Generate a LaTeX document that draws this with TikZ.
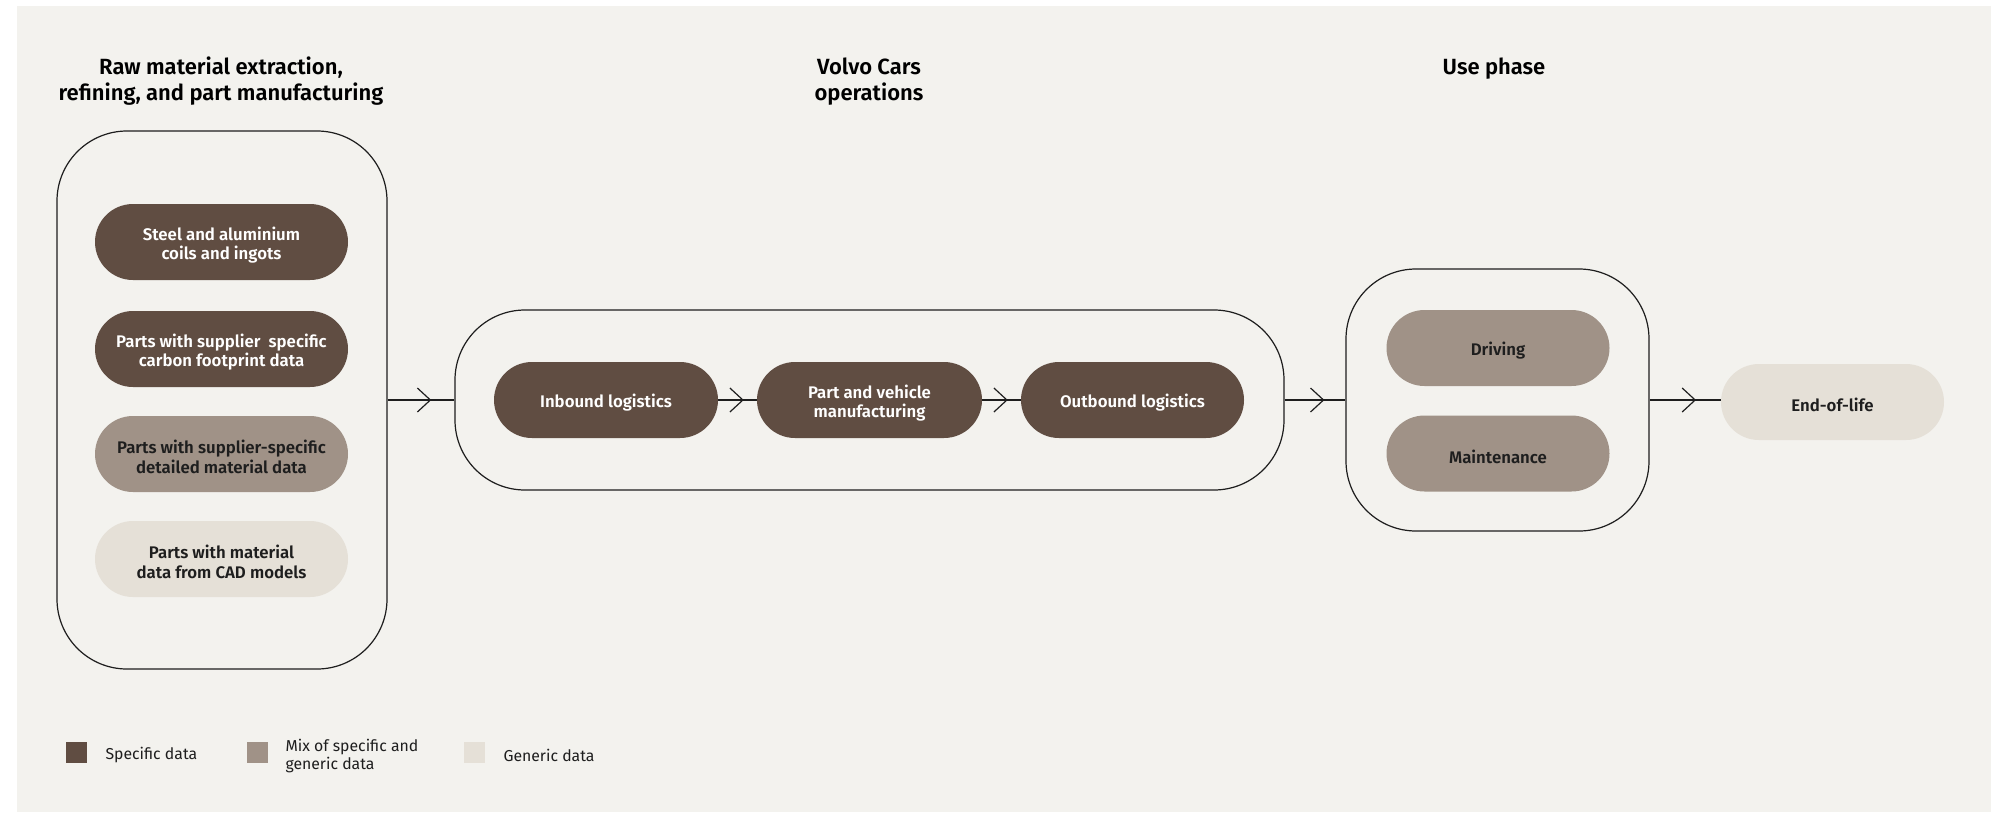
\documentclass[tikz,border=0pt]{standalone}
\usepackage{fontspec}
\setmainfont{Fira Sans}[BoldFont={Fira Sans SemiBold}]
\usetikzlibrary{decorations.markings}
\definecolor{bgc}{RGB}{243,242,238}
\definecolor{darkc}{RGB}{96,77,66}
\definecolor{midc}{RGB}{160,146,135}
\definecolor{lightc}{RGB}{229,224,215}
\definecolor{inkc}{RGB}{30,30,30}
\tikzset{
  pill/.style={rounded corners=38pt, minimum width=226pt, minimum height=76pt, inner sep=0pt},
  pilltext/.style={align=center, yshift=-3pt, inner sep=0pt, font=\bfseries\fontsize{16.8}{19.5}\selectfont},
  pilldark/.style={pill, fill=darkc, label={[pilltext, text=white]center:#1}},
  pillmid/.style={pill, fill=midc, label={[pilltext, text=inkc]center:#1}},
  pilllight/.style={pill, fill=lightc, label={[pilltext, text=inkc]center:#1}},
  container/.style={draw=inkc, line width=1.2pt, rounded corners=70pt, inner sep=0pt},
  title/.style={align=center, text=black, font=\bfseries\fontsize{22}{26}\selectfont},
  legtext/.style={anchor=west, align=left, text=inkc, font=\fontsize{15.8}{18}\selectfont},
  flow/.style={draw=inkc, line width=1.2pt, postaction={decorate},
    decoration={markings, mark=at position 0.64 with {\draw[draw=inkc, line width=1.2pt, line join=miter] (-13,12) -- (0,0) -- (-13,-12);}}}
}
\begin{document}
\begin{tikzpicture}[x=1pt,y=-1pt]
\useasboundingbox (0,0) rectangle (2003,812);
\fill[white] (0,0) rectangle (2003,812);
\fill[bgc] (17,6) rectangle (1991,812);

% titles
\node[title] (t1) at (221,81.5) {Raw material extraction,\\refining, and part manufacturing};
\node[title] (t2) at (869,81.5) {Volvo Cars\\operations};
\node[title] (t3) at (1494,68.5) {Use phase};

% containers
\node[container, minimum width=330pt, minimum height=538pt] (L) at (222,400) {};
\node[container, minimum width=829pt, minimum height=180pt] (M) at (869.5,400) {};
\node[container, minimum width=303pt, minimum height=262pt] (U) at (1497.5,400) {};

% left column
\node[pilldark={Steel and aluminium\\coils and ingots}, minimum width=253pt] (a1) at (221.5,242) {};
\node[pilldark={Parts with supplier\ \ specific\\carbon footprint data}, minimum width=253pt] (a2) at (221.5,349) {};
\node[pillmid={Parts with supplier-specific\\detailed material data}, minimum width=253pt] (a3) at (221.5,454) {};
\node[pilllight={Parts with material\\data from CAD models}, minimum width=253pt] (a4) at (221.5,559) {};

% middle row
\node[pilldark={Inbound logistics}, minimum width=224pt] (b1) at (606,400) {};
\node[pilldark={Part and vehicle\\manufacturing}, minimum width=225pt] (b2) at (869.5,400) {};
\node[pilldark={Outbound logistics}, minimum width=223pt] (b3) at (1132.5,400) {};

% use phase
\node[pillmid={Driving}, minimum width=223pt] (c1) at (1498,348) {};
\node[pillmid={Maintenance}, minimum width=223pt] (c2) at (1498,453.5) {};

% end of life
\node[pilllight={End-of-life}, minimum width=223pt] (d1) at (1832.5,402) {};

% connectors
\draw[flow] (L.east) -- (M.west);
\draw[flow] (b1.east) -- (b2.west);
\draw[flow] (b2.east) -- (b3.west);
\draw[flow] (M.east) -- (U.west);
\draw[flow] (U.east) -- (U.east -| d1.west);

% legend
\node[fill=darkc, minimum size=21pt, inner sep=0pt] (k1) at (76.5,752.5) {};
\node[legtext] (k1t) at (102,755.5) {Specific data};
\node[fill=midc, minimum size=21pt, inner sep=0pt] (k2) at (257.5,752.5) {};
\node[legtext] (k2t) at (282,756.5) {Mix of specific and\\generic data};
\node[fill=lightc, minimum size=21pt, inner sep=0pt] (k3) at (474.5,752.5) {};
\node[legtext] (k3t) at (500,755.5) {Generic data};
\end{tikzpicture}
\end{document}
